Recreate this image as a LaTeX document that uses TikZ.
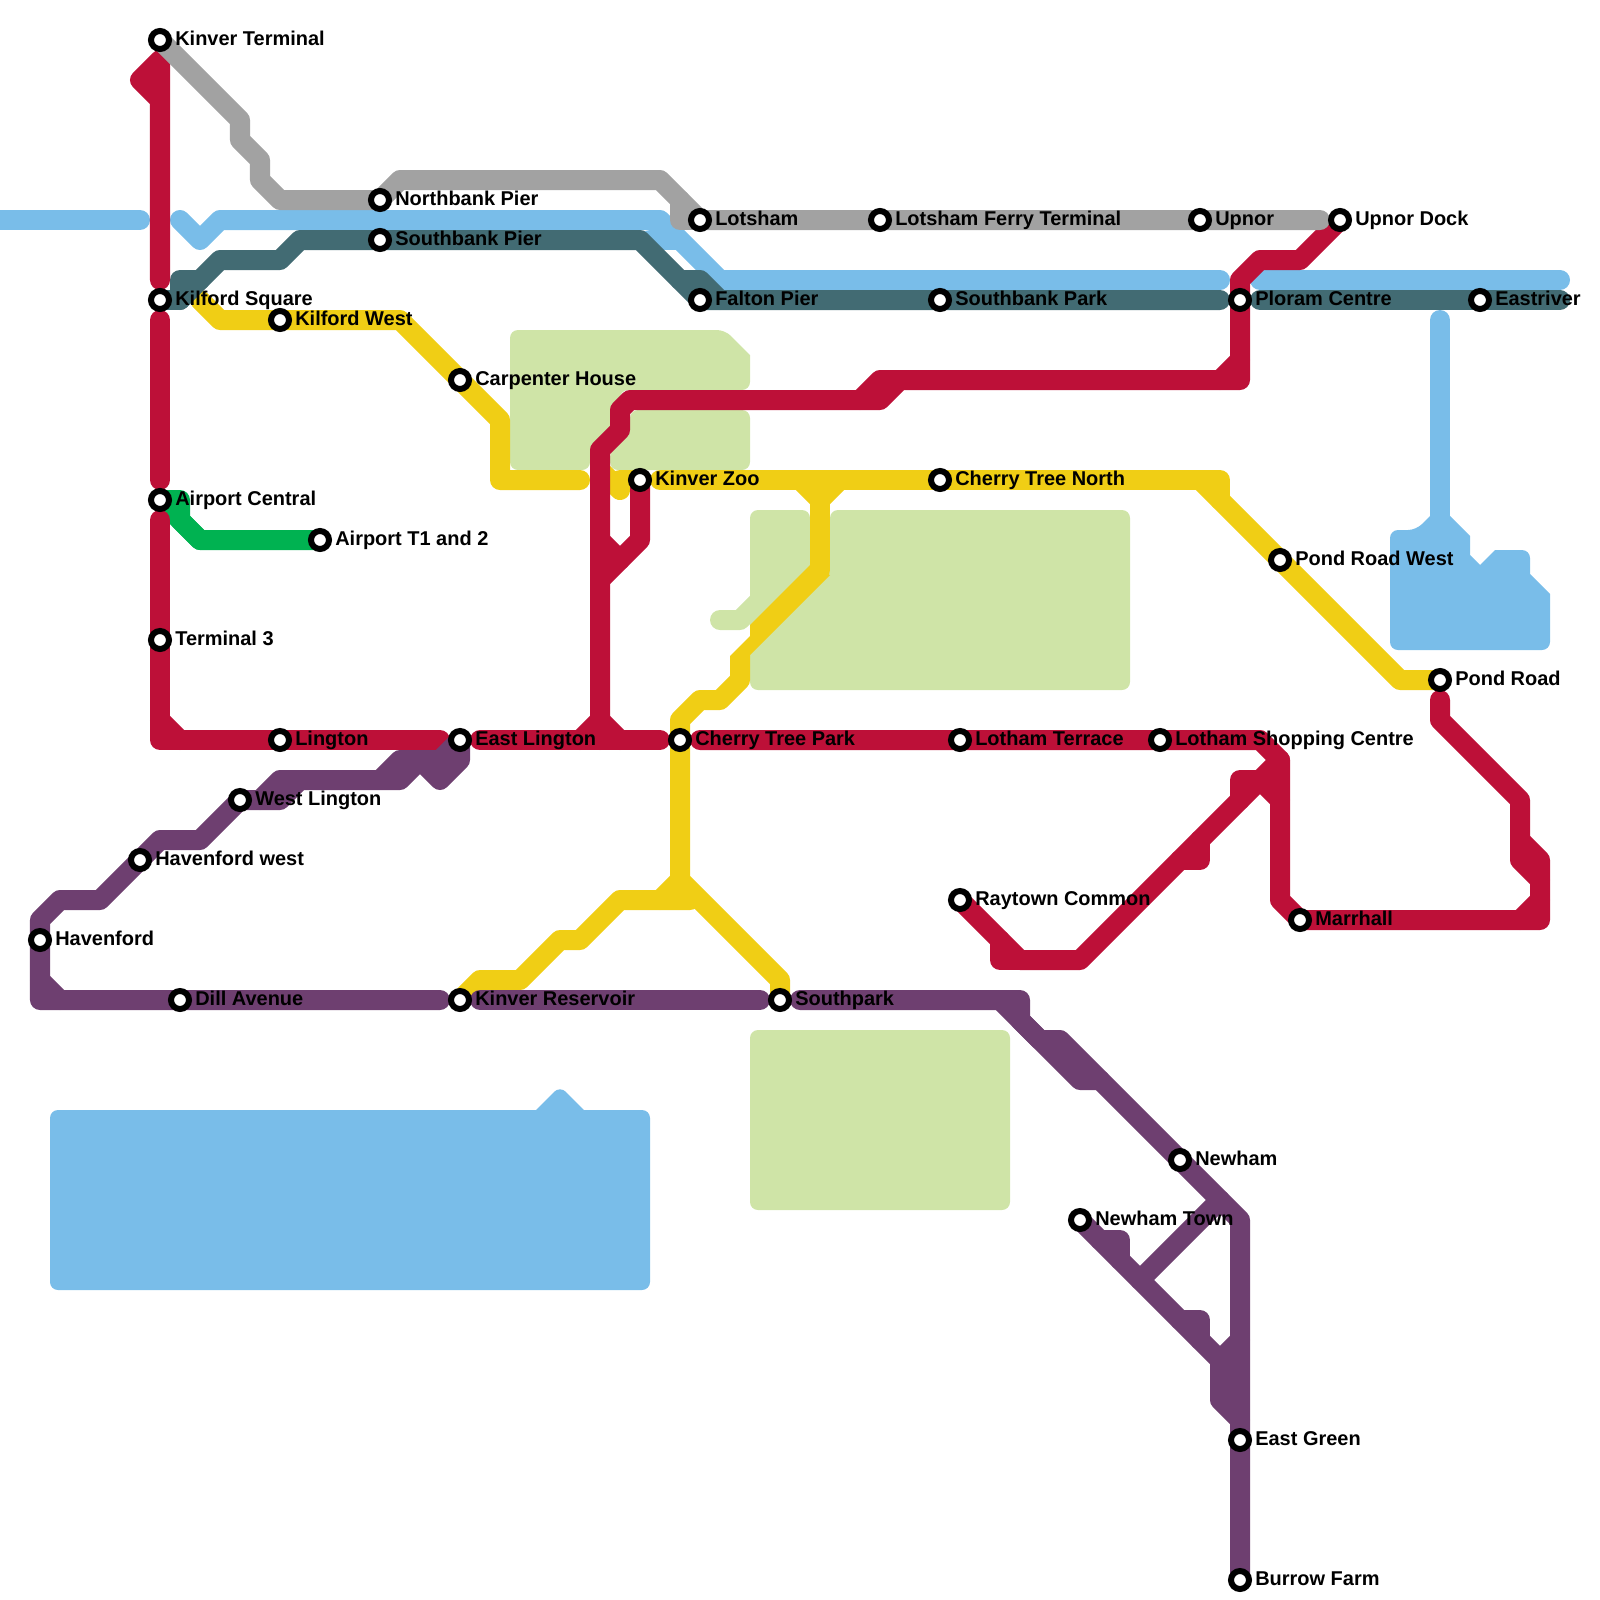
\documentclass[tikz,border=0pt]{standalone}
\usepackage{xcolor}
\usepackage{fontspec}
\setsansfont{Liberation Sans}
\usetikzlibrary{positioning,backgrounds}
\definecolor{parkgreen}{RGB}{207,228,167}
\definecolor{lineblue}{RGB}{121,189,233}
\definecolor{linegray}{RGB}{162,162,162}
\definecolor{lineteal}{RGB}{66,107,115}
\definecolor{lineyellow}{RGB}{240,206,21}
\definecolor{linegreen}{RGB}{0,178,81}
\definecolor{linered}{RGB}{189,16,56}
\definecolor{linepurple}{RGB}{110,63,112}
\tikzset{
  mline/.style={line width=0.5cm, line cap=round, line join=round},
  blueline/.style={mline, draw=lineblue},
  grayline/.style={mline, draw=linegray},
  tealline/.style={mline, draw=lineteal},
  yellowline/.style={mline, draw=lineyellow},
  greenline/.style={mline, draw=linegreen},
  redline/.style={mline, draw=linered},
  purpleline/.style={mline, draw=linepurple},
  parkarea/.style={fill=parkgreen, rounded corners=0.2cm},
  parkspur/.style={mline, draw=parkgreen},
  waterarea/.style={fill=lineblue, rounded corners=0.2cm},
  stn/.style={circle, draw=black, fill=white, line width=0.15cm,
              minimum size=0.45cm, inner sep=0pt},
  lbl/.style={font=\sffamily\bfseries\fontsize{14.2}{16}\selectfont, text=black,
              inner sep=0pt, text height=11.4pt, text depth=3pt},
}
\begin{document}
\begin{tikzpicture}[x=0.025cm,y=-0.025cm]
  \useasboundingbox (0,0) rectangle (1600,1600);
  \node[stn] (kterm) at (160,40) {};
  \node[lbl, right=0.75mm of kterm] (ktermlbl) {Kinver Terminal};
  \node[stn] (nbank) at (380,200) {};
  \node[lbl, right=0.75mm of nbank] (nbanklbl) {Northbank Pier};
  \node[stn] (sbank) at (380,240) {};
  \node[lbl, right=0.75mm of sbank] (sbanklbl) {Southbank Pier};
  \node[stn] (lots) at (700,220) {};
  \node[lbl, right=0.75mm of lots] (lotslbl) {Lotsham};
  \node[stn] (lferry) at (880,220) {};
  \node[lbl, right=0.75mm of lferry] (lferrylbl) {Lotsham Ferry Terminal};
  \node[stn] (upnor) at (1200,220) {};
  \node[lbl, right=0.75mm of upnor] (upnorlbl) {Upnor};
  \node[stn] (udock) at (1340,220) {};
  \node[lbl, right=0.75mm of udock] (udocklbl) {Upnor Dock};
  \node[stn] (ksq) at (160,300) {};
  \node[lbl, right=0.75mm of ksq] (ksqlbl) {Kilford Square};
  \node[stn] (kwest) at (280,320) {};
  \node[lbl, right=0.75mm of kwest] (kwestlbl) {Kilford West};
  \node[stn] (falt) at (700,300) {};
  \node[lbl, right=0.75mm of falt] (faltlbl) {Falton Pier};
  \node[stn] (spark) at (940,300) {};
  \node[lbl, right=0.75mm of spark] (sparklbl) {Southbank Park};
  \node[stn] (ploram) at (1240,300) {};
  \node[lbl, right=0.75mm of ploram] (ploramlbl) {Ploram Centre};
  \node[stn] (eastr) at (1480,300) {};
  \node[lbl, right=0.75mm of eastr] (eastrlbl) {Eastriver};
  \node[stn] (carp) at (460,380) {};
  \node[lbl, right=0.75mm of carp] (carplbl) {Carpenter House};
  \node[stn] (kzoo) at (640,480) {};
  \node[lbl, right=0.75mm of kzoo] (kzoolbl) {Kinver Zoo};
  \node[stn] (ctn) at (940,480) {};
  \node[lbl, right=0.75mm of ctn] (ctnlbl) {Cherry Tree North};
  \node[stn] (apc) at (160,500) {};
  \node[lbl, right=0.75mm of apc] (apclbl) {Airport Central};
  \node[stn] (apt) at (320,540) {};
  \node[lbl, right=0.75mm of apt] (aptlbl) {Airport T1 and 2};
  \node[stn] (prw) at (1280,560) {};
  \node[lbl, right=0.75mm of prw] (prwlbl) {Pond Road West};
  \node[stn] (term) at (160,640) {};
  \node[lbl, right=0.75mm of term] (termlbl) {Terminal 3};
  \node[stn] (pond) at (1440,680) {};
  \node[lbl, right=0.75mm of pond] (pondlbl) {Pond Road};
  \node[stn] (ling) at (280,740) {};
  \node[lbl, right=0.75mm of ling] (linglbl) {Lington};
  \node[stn] (eling) at (460,740) {};
  \node[lbl, right=0.75mm of eling] (elinglbl) {East Lington};
  \node[stn] (ctp) at (680,740) {};
  \node[lbl, right=0.75mm of ctp] (ctplbl) {Cherry Tree Park};
  \node[stn] (lterr) at (960,740) {};
  \node[lbl, right=0.75mm of lterr] (lterrlbl) {Lotham Terrace};
  \node[stn] (lshop) at (1160,740) {};
  \node[lbl, right=0.75mm of lshop] (lshoplbl) {Lotham Shopping Centre};
  \node[stn] (wling) at (240,800) {};
  \node[lbl, right=0.75mm of wling] (wlinglbl) {West Lington};
  \node[stn] (hwest) at (140,860) {};
  \node[lbl, right=0.75mm of hwest] (hwestlbl) {Havenford west};
  \node[stn] (ray) at (960,900) {};
  \node[lbl, right=0.75mm of ray] (raylbl) {Raytown Common};
  \node[stn] (marr) at (1300,920) {};
  \node[lbl, right=0.75mm of marr] (marrlbl) {Marrhall};
  \node[stn] (hford) at (40,940) {};
  \node[lbl, right=0.75mm of hford] (hfordlbl) {Havenford};
  \node[stn] (dill) at (180,1000) {};
  \node[lbl, right=0.75mm of dill] (dilllbl) {Dill Avenue};
  \node[stn] (kres) at (460,1000) {};
  \node[lbl, right=0.75mm of kres] (kreslbl) {Kinver Reservoir};
  \node[stn] (spk) at (780,1000) {};
  \node[lbl, right=0.75mm of spk] (spklbl) {Southpark};
  \node[stn] (newh) at (1180,1160) {};
  \node[lbl, right=0.75mm of newh] (newhlbl) {Newham};
  \node[stn] (ntown) at (1080,1220) {};
  \node[lbl, right=0.75mm of ntown] (ntownlbl) {Newham Town};
  \node[stn] (egreen) at (1240,1440) {};
  \node[lbl, right=0.75mm of egreen] (egreenlbl) {East Green};
  \node[stn] (burrow) at (1240,1580) {};
  \node[lbl, right=0.75mm of burrow] (burrowlbl) {Burrow Farm};
  \begin{scope}[on background layer]
    \fill[parkarea] (510,400) -- (510,330) -- (725,330) [sharp corners] -- (750,355) -- (750,372) [rounded corners=0.2cm] -- (750,390) -- (620,390) -- (620,430) -- (590,460) -- (590,470) -- (510,470) -- cycle;
    \fill[parkarea] (630,410) -- (750,410) -- (750,470) -- (610,470) -- (610,450) -- (630,430) -- cycle;
    \fill[parkarea] (750,510) -- (810,510) -- (810,555) -- (830,555) -- (830,510) -- (1130,510) -- (1130,690) -- (750,690) -- cycle;
    \draw[parkspur] (720,620) -- (740,620) -- (770,590);
    \fill[parkarea] (750,1030) rectangle (1010,1210);
    \fill[waterarea] (50,1110) rectangle (650,1290);
    \fill[waterarea] (520,1126) -- (560,1086) -- (600,1126) -- cycle;
    \fill[waterarea] (1390,600) -- (1390,530) -- (1416,530) [sharp corners] -- (1440,506) -- (1470,536) -- (1470,555) -- (1480,565) -- (1495,550) [rounded corners=0.2cm] -- (1530,550) [sharp corners] -- (1530,574) -- (1550,594) [rounded corners=0.2cm] -- (1550,650) -- (1390,650) -- cycle;
    \draw[blueline] (0,220) -- (140,220);
    \draw[blueline] (180,220) -- (200,240) -- (220,220) -- (660,220) -- (720,280) -- (1220,280);
    \draw[blueline] (650,240) -- (675,240);
    \draw[blueline] (1260,280) -- (1560,280);
    \draw[blueline] (1440,320) -- (1440,530);
    \draw[yellowline] (200,300) -- (220,320) -- (400,320) -- (500,420) -- (500,480) -- (580,480);
    \draw[yellowline] (600,470) -- (620,490) -- (620,480) -- (kzoo.center);
    \draw[yellowline] (660,480) -- (1220,480) -- (1220,500);
    \draw[yellowline] (1200,480) -- (1400,680) -- (pond.center);
    \draw[yellowline] (800,480) -- (820,500) -- (840,480);
    \draw[yellowline] (820,480) -- (820,570);
    \fill[lineyellow] (810,565) -- (750,625) -- (750,636) -- (730,656) -- (730,680) -- (750,680) -- (750,655) -- (830,575) -- cycle;
    \draw[yellowline] (740,680) -- (720,700) -- (700,700) -- (680,720) -- (680,880) -- (780,980) -- (spk.center);
    \draw[yellowline] (kres.center) -- (480,980) -- (520,980) -- (560,940) -- (580,940) -- (620,900) -- (690,900);
    \draw[yellowline] (660,900) -- (680,880);
    \draw[tealline] (ksq.center) -- (180,300) -- (180,280) -- (200,280);
    \draw[tealline] (180,300) -- (220,260) -- (280,260) -- (300,240) -- (640,240) -- (falt.center) -- (1220,300);
    \draw[tealline] (680,280) -- (700,280) -- (720,300);
    \draw[tealline] (1260,300) -- (1560,300);
    \draw[greenline] (apc.center) -- (200,540) -- (apt.center);
    \draw[greenline] (apc.center) -- (180,500) -- (180,520) -- (200,540);
    \draw[redline] (160,100) -- (140,80) -- (160,60) -- (160,280);
    \draw[redline] (160,320) -- (160,480);
    \draw[redline] (160,520) -- (160,740) -- (440,740);
    \draw[redline] (160,720) -- (180,740);
    \draw[redline] (480,740) -- (660,740);
    \draw[redline] (580,740) -- (600,720) -- (620,740);
    \draw[redline] (600,740) -- (600,450) -- (620,430) -- (620,410) -- (630,400) -- (880,400) -- (900,380) -- (1240,380) -- (1240,280) -- (1260,260) -- (1300,260) -- (udock.center);
    \draw[redline] (860,400) -- (880,380) -- (900,380);
    \draw[redline] (1220,380) -- (1240,360);
    \draw[redline] (600,580) -- (640,540) -- (kzoo.center);
    \draw[redline] (600,540) -- (620,560);
    \draw[redline] (700,740) -- (1260,740) -- (1280,760) -- (1280,900) -- (marr.center) -- (1540,920) -- (1540,860) -- (1520,840);
    \draw[redline] (1520,920) -- (1540,900);
    \draw[redline] (1440,700) -- (1440,720) -- (1520,800) -- (1520,860) -- (1540,880);
    \draw[redline] (ray.center) -- (1020,960) -- (1080,960) -- (1280,760);
    \draw[redline] (1000,940) -- (1000,960) -- (1020,960);
    \draw[redline] (1180,860) -- (1200,860) -- (1200,840);
    \draw[redline] (1240,800) -- (1240,780) -- (1260,780) -- (1280,800);
    \draw[purpleline] (440,1000) -- (40,1000) -- (40,920) -- (60,900) -- (100,900) -- (160,840) -- (200,840) -- (wling.center) -- (280,800) -- (300,780) -- (400,780) -- (420,760) -- (440,780) -- (460,760) -- (eling.center) -- (440,760) -- (400,760) -- (380,780);
    \draw[purpleline] (260,800) -- (280,780) -- (300,780);
    \draw[purpleline] (40,980) -- (60,1000);
    \draw[purpleline] (480,1000) -- (760,1000);
    \draw[purpleline] (800,1000) -- (1020,1000) -- (1020,1020) -- (1040,1040) -- (1060,1040) -- (1240,1220) -- (burrow.center);
    \draw[purpleline] (1000,1000) -- (1080,1080) -- (1100,1080);
    \draw[purpleline] (1220,1200) -- (1140,1280);
    \draw[purpleline] (ntown.center) -- (1220,1360) -- (1220,1400) -- (1240,1420);
    \draw[purpleline] (1100,1240) -- (1120,1240) -- (1120,1260);
    \draw[purpleline] (1180,1320) -- (1200,1320) -- (1200,1340);
    \draw[purpleline] (1240,1340) -- (1220,1360);
    \draw[grayline] (kterm.center) -- (240,120) -- (240,140) -- (260,160) -- (260,180) -- (280,200) -- (nbank.center) -- (400,180) -- (660,180) -- (lots.center) -- (1320,220);
    \draw[grayline] (680,200) -- (680,220) -- (700,220);
  \end{scope}
\end{tikzpicture}
\end{document}
